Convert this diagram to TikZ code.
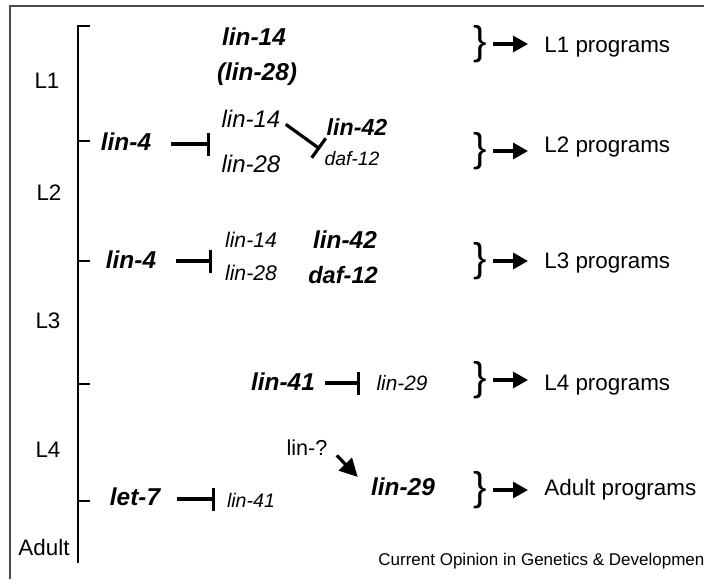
\documentclass[tikz,border=0pt]{standalone}
\usepackage{fontspec}
\setmainfont{Liberation Sans}
\usetikzlibrary{arrows.meta}
\tikzset{
  stagelbl/.style={font=\fontsize{11.2}{13}\selectfont, anchor=base, inner sep=0pt},
  gene/.style={font=\fontsize{#1}{14}\selectfont\bfseries\itshape, anchor=base, inner sep=0pt},
  gene/.default=12.2,
  tgt/.style={font=\fontsize{#1}{14}\selectfont\itshape, anchor=base, inner sep=0pt},
  tgt/.default=12,
  prog/.style={font=\fontsize{11.2}{13}\selectfont, anchor=base west, inner sep=0pt},
  brc/.style={font=\fontsize{20}{20}\selectfont, inner sep=0pt},
  inh/.style={-{Bar[width=#1]}, line width=1.6pt},
  inh/.default=11.5pt,
  arr/.style={-{Triangle[length=7.5pt,width=8pt]}, line width=1.6pt,
    shorten <=3pt, shorten >=8pt},
  bigarr/.style={-{Triangle[length=9pt,width=9pt]}, line width=1.6pt}
}
\begin{document}
\begin{tikzpicture}[x=0.5pt,y=-0.5pt]
  \useasboundingbox (0,0) rectangle (704,579);
  % frame and time axis
  \draw[line width=0.6pt, black!70] (10,579) -- (10,6) -- (704,6);
  \draw[line width=0.6pt] (90,26) -- (78,26) -- (78,563);
  \foreach \y in {141,261,384,501}
    \draw[line width=0.6pt] (78,\y) -- (90,\y);
  % stages
  \node[stagelbl] (st1) at (47,88) {L1};
  \node[stagelbl] (st2) at (49,200) {L2};
  \node[stagelbl] (st3) at (48,328) {L3};
  \node[stagelbl] (st4) at (48,457) {L4};
  \node[stagelbl] (st5) at (44,555) {Adult};
  % L1
  \node[gene] (l14a) at (254,45) {lin-14};
  \node[gene] (l28a) at (257,80) {(lin-28)};
  % L2
  \node[gene] (l4a) at (126,150) {lin-4};
  \node[tgt] (l14b) at (251,127) {lin-14};
  \node[tgt] (l28b) at (251,172) {lin-28};
  \node[gene=11.6] (l42b) at (357,135) {lin-42};
  \node[tgt=9.7] (d12b) at (352,165) {daf-12};
  \coordinate (k2) at (210,144);
  \draw[inh, shorten <=10pt] (l4a.east |- k2) -- (k2);
  \coordinate (k2b) at (320,149);
  \draw[inh=12pt] ([shift={(2.5pt,-3pt)}]l14b.east) -- (k2b);
  % L3
  \node[gene] (l4b) at (131,268) {lin-4};
  \node[tgt=10.6] (l14c) at (251,247) {lin-14};
  \node[tgt=10.6] (l28c) at (251,280) {lin-28};
  \node[gene] (l42c) at (345,248) {lin-42};
  \node[gene=11.8] (d12c) at (343,283) {daf-12};
  \coordinate (k3) at (212,261);
  \draw[inh, shorten <=10pt] (l4b.east |- k3) -- (k3);
  % L4
  \node[gene] (l41a) at (283,390) {lin-41};
  \node[tgt=10.4] (l29a) at (402,390) {lin-29};
  \coordinate (k4) at (360,383);
  \draw[inh, shorten <=5pt] (l41a.east |- k4) -- (k4);
  % adult
  \node[gene] (let7) at (135,505) {let-7};
  \node[tgt=9.8] (l41b) at (251,507) {lin-41};
  \coordinate (k5) at (215,499);
  \draw[inh, shorten <=8.5pt] (let7.east |- k5) -- (k5);
  \node[font=\fontsize{10.8}{13}\selectfont, anchor=base, inner sep=0pt] (lq) at (307,455) {lin-?};
  \node[gene] (l29b) at (403,495) {lin-29};
  \draw[bigarr] ([xshift=4.5pt]lq.south east) -- ([xshift=-6.5pt]l29b.north west);
  % programs
  \node[brc] (b1) at (480,44) {\}};
  \node[brc] (b2) at (480,151) {\}};
  \node[brc] (b3) at (480,261) {\}};
  \node[brc] (b4) at (480,380) {\}};
  \node[brc] (b5) at (480,490) {\}};
  \node[prog] (p1) at (544,52) {L1 programs};
  \node[prog] (p2) at (544,152) {L2 programs};
  \node[prog] (p3) at (544,268) {L3 programs};
  \node[prog] (p4) at (544,390) {L4 programs};
  \node[prog] (p5) at (544,495) {Adult programs};
  \draw[arr] (b1.east) -- (b1.east -| p1.west);
  \draw[arr] (b2.east) -- (b2.east -| p2.west);
  \draw[arr] (b3.east) -- (b3.east -| p3.west);
  \draw[arr] (b4.east) -- (b4.east -| p4.west);
  \draw[arr] (b5.east) -- (b5.east -| p5.west);
  \node[font=\fontsize{8.5}{10}\selectfont, anchor=base west, inner sep=0pt] (src) at (378,565) {Current Opinion in Genetics \& Developmen};
\end{tikzpicture}
\end{document}
